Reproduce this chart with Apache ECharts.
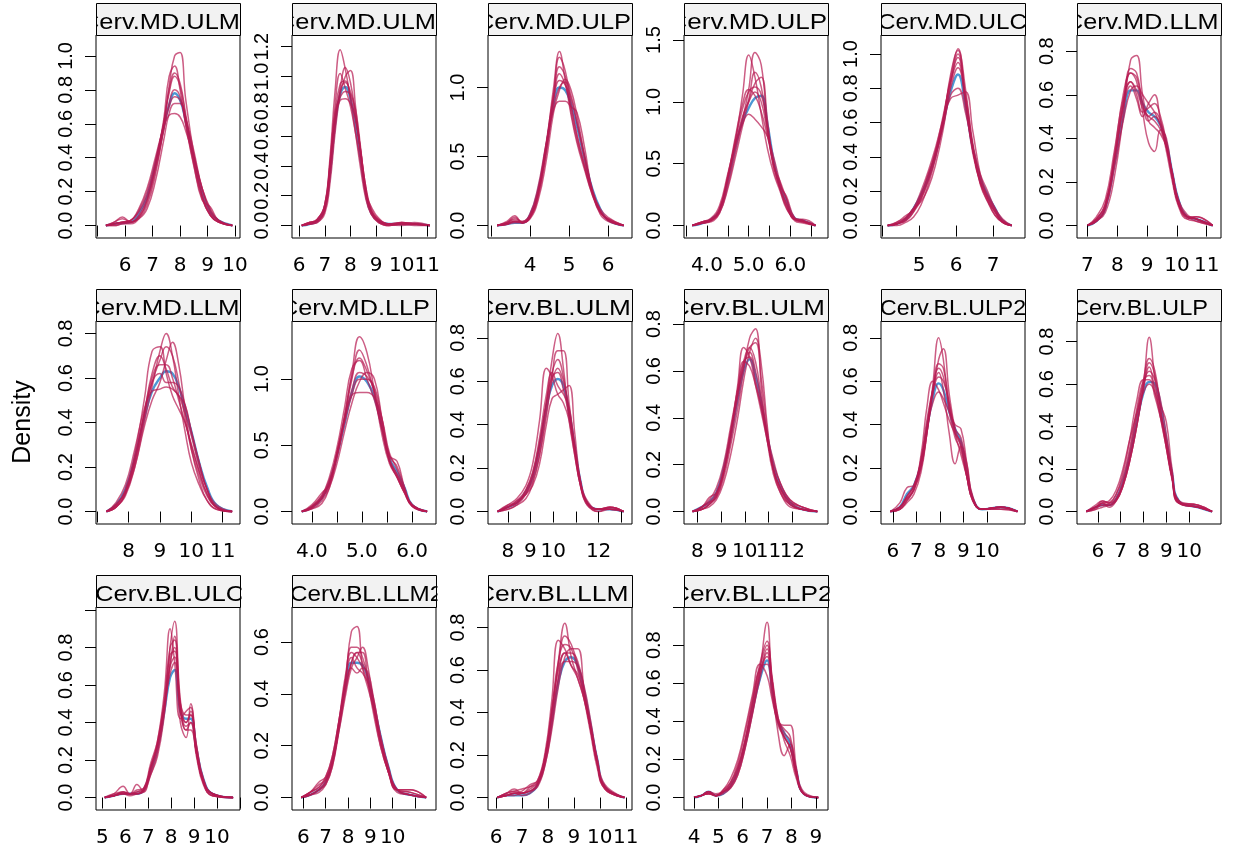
<!DOCTYPE html>
<html><head><meta charset="utf-8">
<script src="https://cdn.jsdelivr.net/npm/echarts@6/dist/echarts.min.js"></script>
<style>html,body{margin:0;padding:0;background:#fff}#c{width:1233px;height:857px}</style>
</head><body><div id="c"></div>
<script>
// ---------------- data ----------------
const stripLabels = ['Cerv.MD.ULM','Cerv.MD.ULM','Cerv.MD.ULP','Cerv.MD.ULP','Cerv.MD.ULC','Cerv.MD.LLM',
  'Cerv.MD.LLM','Cerv.MD.LLP','Cerv.BL.ULM','Cerv.BL.ULM','Cerv.BL.ULP2','Cerv.BL.ULP',
  'Cerv.BL.ULC','Cerv.BL.LLM2','Cerv.BL.LLM','Cerv.BL.LLP2'];
const yTitle = 'Density';

const x1 = [5.3,5.6,5.9,6.2,6.5,6.8,7.1,7.4,7.6,7.8,8.0,8.2,8.5,8.8,9.1,9.4,9.9];
const obs1 = [0,0.01,0.015,0.02,0.07,0.17,0.36,0.58,0.71,0.78,0.74,0.62,0.40,0.20,0.08,0.03,0];
const imp1 = [
 [0,0,0.01,0.01,0.04,0.12,0.30,0.58,0.82,1.0,1.02,0.75,0.42,0.18,0.06,0.02,0],
 [0,0.02,0.05,0.02,0.05,0.15,0.35,0.62,0.88,0.94,0.80,0.60,0.35,0.16,0.06,0.02,0],
 [0,0.01,0.02,0.03,0.09,0.20,0.38,0.60,0.78,0.88,0.82,0.64,0.38,0.17,0.06,0.02,0],
 [0,0.01,0.02,0.03,0.10,0.22,0.40,0.58,0.65,0.66,0.64,0.56,0.40,0.22,0.10,0.03,0],
 [0,0.01,0.02,0.02,0.05,0.14,0.32,0.56,0.72,0.80,0.76,0.60,0.36,0.15,0.11,0.03,0],
 [0,0,0.01,0.02,0.04,0.10,0.26,0.50,0.66,0.72,0.72,0.62,0.42,0.22,0.08,0.03,0],
 [0,0.01,0.02,0.03,0.08,0.18,0.36,0.60,0.80,0.90,0.84,0.66,0.38,0.18,0.07,0.02,0],
 [0,0.02,0.04,0.02,0.06,0.16,0.34,0.56,0.70,0.76,0.74,0.64,0.44,0.22,0.09,0.03,0]];

const x2 = [6.1,6.4,6.7,7.0,7.2,7.4,7.6,7.8,8.0,8.2,8.4,8.6,8.8,9.1,9.5,10.0,10.5,11.1];
const obs2 = [0,0.01,0.03,0.12,0.35,0.68,0.88,0.93,0.85,0.68,0.45,0.22,0.09,0.03,0.01,0.01,0.01,0];
const imp2 = [
 [0,0.02,0.04,0.14,0.45,0.90,1.18,1.05,0.85,0.62,0.38,0.18,0.08,0.02,0,0.01,0.01,0],
 [0,0.01,0.02,0.08,0.28,0.62,0.88,1.00,1.04,0.80,0.48,0.22,0.10,0.03,0,0.01,0,0],
 [0,0.02,0.03,0.10,0.38,0.74,0.95,0.97,0.86,0.70,0.46,0.22,0.10,0.03,0.01,0.02,0.01,0],
 [0,0.01,0.04,0.14,0.40,0.70,0.84,0.85,0.82,0.72,0.50,0.26,0.12,0.04,0.01,0,0.01,0],
 [0,0.01,0.02,0.10,0.32,0.66,0.90,0.96,0.90,0.78,0.52,0.22,0.13,0.05,0.01,0.01,0.02,0],
 [0,0.02,0.03,0.12,0.40,0.80,1.02,0.92,0.80,0.62,0.42,0.20,0.08,0.02,0,0.02,0.01,0],
 [0,0.01,0.03,0.11,0.36,0.70,0.92,1.06,0.96,0.74,0.50,0.24,0.10,0.03,0.01,0.01,0.01,0],
 [0,0.02,0.04,0.14,0.42,0.76,0.86,0.90,0.88,0.74,0.50,0.26,0.10,0.04,0.01,0.02,0.01,0]];

const x3 = [3.15,3.4,3.6,3.8,4.0,4.2,4.4,4.6,4.75,4.9,5.05,5.2,5.4,5.6,5.8,6.0,6.4];
const obs3 = [0,0.01,0.02,0.02,0.08,0.25,0.55,0.88,1.0,0.98,0.88,0.72,0.48,0.26,0.12,0.04,0];
const imp3 = [
 [0,0.03,0.07,0.02,0.06,0.22,0.55,1.0,1.26,1.05,0.80,0.60,0.40,0.22,0.10,0.04,0],
 [0,0.02,0.05,0.03,0.08,0.25,0.55,0.92,1.10,1.02,0.85,0.65,0.42,0.22,0.09,0.05,0],
 [0,0.01,0.03,0.02,0.05,0.18,0.45,0.82,0.98,1.06,0.98,0.80,0.50,0.25,0.10,0.04,0],
 [0,0.01,0.03,0.03,0.09,0.28,0.58,0.84,0.90,0.90,0.86,0.82,0.56,0.24,0.10,0.05,0],
 [0,0.02,0.06,0.02,0.07,0.24,0.58,0.95,1.15,1.08,0.82,0.62,0.42,0.24,0.12,0.06,0],
 [0,0.01,0.02,0.02,0.06,0.20,0.50,0.90,1.05,1.02,0.92,0.74,0.48,0.24,0.08,0.03,0],
 [0,0.02,0.04,0.02,0.07,0.24,0.56,0.94,1.22,1.12,0.88,0.66,0.44,0.23,0.10,0.04,0],
 [0,0.01,0.03,0.02,0.06,0.22,0.52,0.86,1.0,1.04,0.94,0.76,0.50,0.26,0.11,0.04,0]];

const x4 = [3.65,3.9,4.1,4.3,4.5,4.7,4.85,5.0,5.15,5.3,5.45,5.6,5.75,5.9,6.1,6.3,6.6];
const obs4 = [0,0.02,0.05,0.12,0.36,0.66,0.84,0.95,1.03,1.05,0.82,0.52,0.32,0.2,0.06,0.04,0];
const imp4 = [
 [0,0.02,0.03,0.1,0.32,0.62,0.85,1.1,1.40,1.30,0.80,0.45,0.30,0.16,0.04,0.02,0],
 [0,0.03,0.04,0.12,0.38,0.72,1.05,1.38,1.20,0.90,0.62,0.42,0.28,0.14,0.05,0.03,0],
 [0,0.03,0.06,0.16,0.42,0.68,0.82,0.90,0.86,0.80,0.72,0.55,0.35,0.18,0.05,0.04,0],
 [0,0.02,0.04,0.12,0.40,0.75,0.98,1.10,1.05,0.92,0.72,0.50,0.32,0.24,0.06,0.03,0],
 [0,0.02,0.04,0.1,0.30,0.58,0.80,1.0,1.15,1.20,0.85,0.48,0.36,0.22,0.05,0.05,0],
 [0,0.03,0.05,0.13,0.38,0.68,0.88,1.0,1.08,1.0,0.75,0.50,0.30,0.15,0.05,0.03,0],
 [0,0.02,0.05,0.14,0.40,0.72,0.94,1.08,1.12,1.06,0.80,0.50,0.30,0.18,0.06,0.04,0],
 [0,0.03,0.05,0.12,0.36,0.66,0.86,1.02,1.24,1.12,0.78,0.48,0.34,0.22,0.06,0.04,0]];

const x5 = [4.15,4.4,4.65,4.85,5.05,5.25,5.45,5.65,5.85,6.05,6.25,6.45,6.65,6.85,7.05,7.25,7.5];
const obs5 = [0,0.01,0.04,0.1,0.18,0.28,0.42,0.60,0.78,0.88,0.70,0.45,0.28,0.18,0.10,0.03,0];
const imp5 = [
 [0,0.01,0.03,0.08,0.15,0.26,0.40,0.60,0.88,1.03,0.72,0.42,0.25,0.16,0.08,0.02,0],
 [0,0.0,0.02,0.05,0.12,0.24,0.40,0.62,0.86,1.02,0.80,0.46,0.24,0.14,0.08,0.02,0],
 [0,0.01,0.04,0.1,0.20,0.32,0.46,0.62,0.74,0.76,0.78,0.55,0.30,0.16,0.08,0.02,0],
 [0,0.02,0.06,0.09,0.16,0.28,0.44,0.64,0.84,0.95,0.70,0.44,0.26,0.15,0.06,0.02,0],
 [0,0.01,0.03,0.08,0.18,0.30,0.42,0.58,0.76,0.80,0.66,0.46,0.30,0.20,0.10,0.04,0],
 [0,0.01,0.05,0.1,0.14,0.22,0.36,0.56,0.82,1.0,0.76,0.45,0.25,0.14,0.06,0.02,0],
 [0,0.01,0.04,0.09,0.16,0.27,0.42,0.62,0.84,0.98,0.74,0.44,0.26,0.17,0.09,0.03,0],
 [0,0.02,0.05,0.10,0.18,0.30,0.44,0.60,0.80,0.92,0.76,0.48,0.28,0.18,0.10,0.03,0]];

const x6 = [7.0,7.3,7.6,7.9,8.2,8.45,8.65,8.85,9.05,9.25,9.45,9.65,9.85,10.05,10.35,10.65,11.2];
const obs6 = [0,0.02,0.08,0.28,0.50,0.62,0.62,0.56,0.52,0.50,0.46,0.38,0.24,0.12,0.04,0.03,0];
const imp6 = [
 [0,0.02,0.06,0.22,0.50,0.76,0.78,0.60,0.48,0.45,0.42,0.36,0.24,0.12,0.04,0.03,0],
 [0,0.03,0.10,0.30,0.54,0.64,0.58,0.50,0.56,0.60,0.48,0.36,0.22,0.10,0.04,0.02,0],
 [0,0.02,0.08,0.32,0.60,0.70,0.66,0.52,0.38,0.34,0.44,0.40,0.22,0.10,0.03,0.02,0],
 [0,0.03,0.10,0.30,0.56,0.70,0.68,0.56,0.48,0.50,0.46,0.34,0.20,0.09,0.03,0.04,0],
 [0,0.02,0.08,0.26,0.48,0.62,0.64,0.60,0.56,0.52,0.46,0.36,0.24,0.12,0.05,0.03,0],
 [0,0.04,0.12,0.34,0.58,0.66,0.62,0.54,0.50,0.48,0.44,0.36,0.22,0.10,0.04,0.04,0],
 [0,0.02,0.08,0.28,0.54,0.72,0.70,0.56,0.50,0.52,0.48,0.38,0.24,0.11,0.04,0.03,0],
 [0,0.03,0.09,0.30,0.56,0.66,0.60,0.52,0.54,0.56,0.50,0.38,0.22,0.10,0.04,0.03,0]];

const x7 = [7.3,7.6,7.9,8.2,8.5,8.75,9.0,9.2,9.4,9.6,9.8,10.0,10.25,10.5,10.8,11.3];
const obs7 = [0,0.03,0.10,0.24,0.42,0.54,0.60,0.63,0.62,0.56,0.46,0.36,0.22,0.11,0.03,0];
const imp7 = [
 [0,0.02,0.07,0.20,0.40,0.56,0.72,0.80,0.70,0.52,0.36,0.22,0.12,0.05,0.01,0],
 [0,0.03,0.10,0.26,0.50,0.72,0.74,0.62,0.52,0.46,0.40,0.30,0.18,0.08,0.02,0],
 [0,0.02,0.08,0.20,0.38,0.50,0.58,0.68,0.76,0.66,0.46,0.28,0.14,0.05,0.01,0],
 [0,0.04,0.12,0.28,0.46,0.54,0.55,0.56,0.55,0.52,0.44,0.34,0.20,0.10,0.03,0],
 [0,0.02,0.08,0.22,0.44,0.62,0.70,0.64,0.56,0.52,0.48,0.36,0.22,0.10,0.02,0],
 [0,0.03,0.09,0.24,0.44,0.60,0.66,0.66,0.60,0.50,0.40,0.30,0.18,0.08,0.02,0],
 [0,0.03,0.09,0.24,0.44,0.58,0.68,0.74,0.70,0.58,0.42,0.28,0.16,0.07,0.02,0],
 [0,0.02,0.08,0.22,0.42,0.58,0.62,0.58,0.58,0.56,0.48,0.36,0.22,0.10,0.02,0]];

const x8 = [3.8,4.0,4.2,4.35,4.5,4.65,4.8,4.95,5.1,5.25,5.4,5.55,5.7,5.85,6.0,6.3];
const obs8 = [0,0.03,0.10,0.22,0.42,0.66,0.90,1.02,0.98,0.86,0.64,0.40,0.30,0.18,0.05,0];
const imp8 = [
 [0,0.02,0.06,0.18,0.40,0.70,1.05,1.32,1.20,0.90,0.58,0.36,0.26,0.14,0.04,0],
 [0,0.05,0.14,0.20,0.44,0.68,0.88,0.90,0.90,0.86,0.70,0.44,0.32,0.16,0.05,0],
 [0,0.04,0.12,0.26,0.48,0.78,1.08,1.14,1.0,0.84,0.62,0.38,0.26,0.14,0.04,0],
 [0,0.02,0.08,0.18,0.36,0.60,0.82,0.98,1.05,1.0,0.70,0.42,0.38,0.18,0.04,0],
 [0,0.03,0.10,0.22,0.42,0.70,1.0,1.22,1.10,0.88,0.62,0.38,0.26,0.14,0.05,0],
 [0,0.03,0.10,0.20,0.44,0.70,0.92,1.05,1.02,0.92,0.66,0.40,0.28,0.16,0.05,0],
 [0,0.03,0.10,0.22,0.44,0.72,1.02,1.16,1.06,0.90,0.64,0.38,0.28,0.16,0.05,0],
 [0,0.04,0.12,0.24,0.42,0.66,0.88,1.0,1.0,0.94,0.70,0.42,0.34,0.18,0.05,0]];

const x9 = [7.55,8.0,8.4,8.8,9.1,9.4,9.7,9.95,10.2,10.45,10.7,10.95,11.2,11.5,12.0,12.5,13.1];
const obs9 = [0,0.02,0.04,0.09,0.16,0.30,0.48,0.58,0.61,0.58,0.46,0.30,0.14,0.04,0.01,0.01,0];
const imp9 = [
 [0,0.01,0.03,0.08,0.16,0.30,0.50,0.70,0.82,0.66,0.42,0.26,0.12,0.03,0,0.02,0],
 [0,0.02,0.04,0.08,0.14,0.26,0.44,0.62,0.74,0.74,0.50,0.30,0.13,0.04,0,0.01,0],
 [0,0.03,0.06,0.12,0.22,0.42,0.66,0.62,0.54,0.50,0.42,0.26,0.12,0.03,0.01,0.01,0],
 [0,0.02,0.05,0.08,0.12,0.22,0.40,0.52,0.54,0.56,0.58,0.36,0.14,0.04,0.01,0.02,0],
 [0,0.03,0.04,0.10,0.18,0.32,0.50,0.62,0.64,0.56,0.44,0.30,0.14,0.05,0.01,0.01,0],
 [0,0.01,0.03,0.06,0.13,0.26,0.46,0.60,0.66,0.60,0.46,0.28,0.12,0.04,0.01,0.02,0],
 [0,0.02,0.04,0.09,0.16,0.30,0.50,0.64,0.70,0.62,0.46,0.28,0.13,0.04,0.01,0.02,0],
 [0,0.02,0.05,0.10,0.18,0.34,0.54,0.64,0.58,0.54,0.48,0.30,0.14,0.04,0.01,0.01,0]];

const x10 = [7.8,8.2,8.5,8.8,9.1,9.4,9.7,9.95,10.2,10.45,10.7,10.95,11.2,11.5,11.9,12.4,13.05];
const obs10 = [0,0.02,0.04,0.08,0.18,0.32,0.48,0.60,0.65,0.58,0.46,0.32,0.20,0.11,0.04,0.01,0];
const imp10 = [
 [0,0.01,0.03,0.06,0.14,0.28,0.44,0.60,0.74,0.78,0.52,0.30,0.16,0.08,0.02,0.01,0],
 [0,0.01,0.02,0.05,0.12,0.24,0.40,0.56,0.68,0.74,0.62,0.36,0.18,0.08,0.03,0.01,0],
 [0,0.02,0.06,0.08,0.16,0.32,0.54,0.70,0.66,0.54,0.42,0.30,0.18,0.10,0.04,0.02,0],
 [0,0.02,0.04,0.06,0.16,0.34,0.52,0.64,0.66,0.56,0.44,0.32,0.22,0.12,0.05,0.02,0],
 [0,0.01,0.03,0.07,0.18,0.34,0.50,0.62,0.68,0.60,0.46,0.32,0.18,0.10,0.03,0.01,0],
 [0,0.02,0.05,0.10,0.20,0.36,0.52,0.64,0.62,0.54,0.44,0.30,0.20,0.12,0.05,0.02,0],
 [0,0.02,0.04,0.08,0.17,0.32,0.50,0.64,0.70,0.64,0.48,0.32,0.18,0.10,0.04,0.01,0],
 [0,0.01,0.03,0.07,0.16,0.30,0.48,0.62,0.70,0.72,0.56,0.34,0.18,0.09,0.03,0.01,0]];

const x11 = [5.9,6.3,6.6,6.9,7.2,7.45,7.7,7.95,8.15,8.4,8.65,8.9,9.15,9.4,9.8,10.6,11.3];
const obs11 = [0,0.02,0.08,0.12,0.22,0.38,0.52,0.59,0.56,0.46,0.38,0.32,0.18,0.06,0.01,0.02,0];
const imp11 = [
 [0,0.01,0.04,0.08,0.18,0.36,0.58,0.80,0.70,0.46,0.34,0.28,0.16,0.05,0.01,0.02,0],
 [0,0.01,0.05,0.10,0.20,0.36,0.54,0.70,0.75,0.54,0.38,0.30,0.16,0.05,0.01,0.02,0],
 [0,0.04,0.11,0.12,0.26,0.48,0.60,0.56,0.50,0.42,0.36,0.32,0.18,0.06,0.01,0.01,0],
 [0,0.02,0.06,0.10,0.24,0.42,0.56,0.64,0.56,0.36,0.22,0.30,0.22,0.06,0.01,0.02,0],
 [0,0.02,0.07,0.12,0.24,0.38,0.50,0.55,0.52,0.46,0.40,0.38,0.22,0.07,0.01,0.01,0],
 [0,0.01,0.05,0.10,0.20,0.36,0.56,0.66,0.62,0.48,0.36,0.30,0.16,0.05,0.01,0.02,0],
 [0,0.02,0.06,0.11,0.22,0.40,0.56,0.68,0.66,0.50,0.38,0.34,0.20,0.06,0.01,0.02,0],
 [0,0.02,0.07,0.12,0.22,0.38,0.54,0.62,0.60,0.50,0.36,0.26,0.16,0.06,0.01,0.02,0]];

const x12 = [5.5,5.9,6.2,6.5,6.8,7.1,7.4,7.7,8.0,8.25,8.5,8.75,9.0,9.25,9.55,10.4,11.0];
const obs12 = [0,0.02,0.03,0.03,0.06,0.14,0.26,0.42,0.56,0.61,0.60,0.50,0.34,0.18,0.05,0.02,0];
const imp12 = [
 [0,0.01,0.04,0.02,0.05,0.12,0.24,0.40,0.60,0.82,0.62,0.44,0.30,0.16,0.04,0.02,0],
 [0,0.02,0.05,0.04,0.06,0.13,0.26,0.44,0.62,0.72,0.66,0.48,0.30,0.15,0.04,0.02,0],
 [0,0.02,0.04,0.05,0.10,0.20,0.34,0.46,0.56,0.60,0.56,0.46,0.32,0.16,0.04,0.03,0],
 [0,0.02,0.03,0.03,0.05,0.12,0.24,0.40,0.58,0.68,0.58,0.50,0.42,0.20,0.04,0.02,0],
 [0,0.03,0.05,0.04,0.08,0.16,0.30,0.48,0.62,0.64,0.56,0.44,0.30,0.16,0.05,0.02,0],
 [0,0.01,0.02,0.03,0.05,0.12,0.24,0.40,0.58,0.70,0.64,0.48,0.32,0.16,0.04,0.03,0],
 [0,0.02,0.04,0.03,0.06,0.14,0.28,0.46,0.60,0.66,0.62,0.52,0.36,0.18,0.05,0.03,0],
 [0,0.02,0.03,0.04,0.08,0.18,0.34,0.52,0.62,0.62,0.54,0.44,0.34,0.18,0.05,0.02,0]];

const x13 = [5.1,5.5,5.9,6.2,6.5,6.8,7.1,7.4,7.7,7.95,8.15,8.4,8.65,8.85,9.1,9.4,9.8,10.7];
const obs13 = [0,0.01,0.02,0.02,0.02,0.04,0.14,0.26,0.46,0.64,0.68,0.46,0.42,0.42,0.26,0.10,0.02,0];
const imp13 = [
 [0,0.01,0.02,0.01,0.02,0.03,0.12,0.24,0.46,0.80,0.94,0.52,0.40,0.44,0.24,0.08,0.01,0],
 [0,0.02,0.06,0.02,0.03,0.04,0.16,0.30,0.56,0.90,0.72,0.42,0.46,0.48,0.24,0.08,0.01,0],
 [0,0.01,0.02,0.02,0.07,0.03,0.16,0.28,0.50,0.70,0.75,0.40,0.32,0.50,0.28,0.10,0.02,0],
 [0,0.01,0.02,0.02,0.02,0.04,0.18,0.30,0.52,0.80,0.84,0.46,0.36,0.40,0.24,0.08,0.02,0],
 [0,0.01,0.03,0.02,0.04,0.05,0.14,0.28,0.48,0.66,0.72,0.50,0.44,0.44,0.28,0.10,0.02,0],
 [0,0.02,0.03,0.02,0.02,0.04,0.12,0.22,0.44,0.72,0.80,0.48,0.38,0.40,0.22,0.07,0.01,0],
 [0,0.01,0.02,0.02,0.03,0.05,0.16,0.28,0.50,0.76,0.78,0.46,0.40,0.46,0.26,0.09,0.02,0],
 [0,0.01,0.03,0.02,0.02,0.04,0.14,0.26,0.48,0.70,0.86,0.50,0.36,0.36,0.24,0.09,0.02,0]];

const x14 = [5.9,6.3,6.7,7.0,7.3,7.6,7.9,8.15,8.4,8.65,8.9,9.15,9.45,9.8,10.2,10.8,11.5];
const obs14 = [0,0.01,0.03,0.06,0.14,0.28,0.44,0.52,0.52,0.51,0.46,0.36,0.24,0.12,0.03,0.01,0];
const imp14 = [
 [0,0.01,0.02,0.05,0.12,0.28,0.46,0.64,0.66,0.50,0.42,0.34,0.22,0.10,0.02,0.01,0],
 [0,0.02,0.04,0.07,0.14,0.26,0.40,0.50,0.54,0.58,0.50,0.36,0.22,0.10,0.03,0.02,0],
 [0,0.02,0.06,0.08,0.16,0.30,0.46,0.54,0.50,0.48,0.44,0.36,0.22,0.11,0.03,0.03,0],
 [0,0.01,0.03,0.05,0.12,0.26,0.42,0.52,0.56,0.56,0.44,0.32,0.20,0.10,0.03,0.01,0],
 [0,0.02,0.04,0.08,0.16,0.30,0.44,0.50,0.48,0.50,0.48,0.38,0.24,0.12,0.03,0.01,0],
 [0,0.01,0.03,0.06,0.14,0.30,0.48,0.56,0.54,0.50,0.44,0.34,0.20,0.10,0.03,0.03,0],
 [0,0.01,0.03,0.06,0.13,0.28,0.46,0.58,0.58,0.54,0.46,0.34,0.22,0.11,0.03,0.01,0],
 [0,0.02,0.05,0.07,0.14,0.28,0.42,0.52,0.56,0.52,0.46,0.38,0.24,0.12,0.03,0.02,0]];

const x15 = [6.05,6.4,6.7,7.0,7.3,7.6,7.9,8.15,8.4,8.65,8.9,9.15,9.4,9.65,9.9,10.2,10.95];
const obs15 = [0,0.01,0.01,0.01,0.02,0.06,0.18,0.36,0.54,0.64,0.66,0.62,0.50,0.34,0.18,0.05,0];
const imp15 = [
 [0,0.01,0.02,0.01,0.02,0.06,0.18,0.40,0.64,0.82,0.66,0.56,0.46,0.32,0.16,0.04,0],
 [0,0.02,0.04,0.02,0.05,0.08,0.22,0.46,0.74,0.70,0.62,0.56,0.46,0.32,0.16,0.05,0],
 [0,0.01,0.01,0.02,0.03,0.05,0.16,0.32,0.52,0.66,0.70,0.70,0.50,0.32,0.16,0.04,0],
 [0,0.01,0.02,0.03,0.06,0.08,0.20,0.40,0.60,0.68,0.62,0.58,0.48,0.34,0.18,0.05,0],
 [0,0.01,0.02,0.02,0.03,0.06,0.20,0.42,0.64,0.72,0.70,0.60,0.46,0.30,0.14,0.04,0],
 [0,0.02,0.03,0.02,0.03,0.06,0.16,0.34,0.56,0.68,0.68,0.64,0.50,0.34,0.18,0.06,0],
 [0,0.01,0.02,0.02,0.04,0.07,0.20,0.40,0.62,0.76,0.72,0.62,0.48,0.32,0.16,0.05,0],
 [0,0.02,0.03,0.04,0.05,0.07,0.18,0.36,0.56,0.64,0.64,0.62,0.52,0.36,0.18,0.05,0]];

const x16 = [4.0,4.3,4.6,4.9,5.2,5.5,5.8,6.1,6.4,6.7,7.0,7.2,7.45,7.7,7.95,8.2,8.5,9.1];
const obs16 = [0,0.01,0.03,0.01,0.02,0.06,0.14,0.28,0.46,0.62,0.72,0.58,0.40,0.34,0.28,0.14,0.02,0];
const imp16 = [
 [0,0.01,0.02,0.01,0.03,0.05,0.12,0.26,0.44,0.66,0.92,0.62,0.40,0.32,0.26,0.12,0.02,0],
 [0,0.01,0.03,0.01,0.04,0.08,0.16,0.30,0.50,0.70,0.82,0.64,0.42,0.30,0.22,0.10,0.02,0],
 [0,0.01,0.02,0.01,0.04,0.10,0.20,0.36,0.54,0.70,0.64,0.52,0.40,0.38,0.38,0.16,0.02,0],
 [0,0.01,0.03,0.02,0.03,0.06,0.14,0.28,0.46,0.64,0.78,0.60,0.34,0.22,0.28,0.14,0.02,0],
 [0,0.01,0.02,0.01,0.02,0.05,0.12,0.26,0.44,0.62,0.76,0.62,0.42,0.34,0.30,0.14,0.03,0],
 [0,0.01,0.03,0.01,0.03,0.07,0.16,0.30,0.48,0.66,0.74,0.56,0.38,0.32,0.26,0.12,0.02,0],
 [0,0.01,0.03,0.01,0.03,0.06,0.14,0.30,0.50,0.68,0.80,0.62,0.40,0.32,0.26,0.12,0.02,0],
 [0,0.01,0.02,0.01,0.03,0.08,0.18,0.34,0.52,0.68,0.70,0.54,0.40,0.36,0.32,0.14,0.02,0]];

const xTickVals = [[5,6,7,8,9,10],[6,7,8,9,10,11],[3,4,5,6],[3.5,4,4.5,5,5.5,6,6.5],[4,5,6,7],[7,8,9,10,11],
 [7,8,9,10,11],[4,4.5,5,5.5,6],[8,9,10,11,12,13],[8,9,10,11,12,13],[6,7,8,9,10,11],[6,7,8,9,10,11],
 [5,6,7,8,9,10,11],[6,7,8,9,10,11],[6,7,8,9,10,11],[4,5,6,7,8,9]];
const xTickLabels = [['6','7','8','9','10'],['6','7','8','9','10','11'],['4','5','6'],['4.0','5.0','6.0'],['5','6','7'],
 ['7','8','9','10','11'],['8','9','10','11'],['4.0','5.0','6.0'],['8','9','10','12'],['8','9','10','11','12','13'],
 ['6','7','8','9','10','11'],['6','7','8','9','10','11'],['5','6','7','8','9','10'],['6','7','8','9','10'],
 ['6','7','8','9','10','11'],['4','5','6','7','8','9']];
const yTickVals = [[0,0.2,0.4,0.6,0.8,1.0],[0,0.2,0.4,0.6,0.8,1.0,1.2],[0,0.5,1.0],[0,0.5,1.0,1.5],[0,0.2,0.4,0.6,0.8,1.0],
 [0,0.2,0.4,0.6,0.8],[0,0.2,0.4,0.6,0.8],[0,0.5,1.0],[0,0.2,0.4,0.6,0.8],[0,0.2,0.4,0.6,0.8],[0,0.2,0.4,0.6,0.8],
 [0,0.2,0.4,0.6,0.8],[0,0.2,0.4,0.6,0.8,1.0],[0,0.2,0.4,0.6],[0,0.2,0.4,0.6,0.8],[0,0.2,0.4,0.6,0.8,1.0]];
const yTickLabels = [['0.0','0.2','0.4','0.6','0.8','1.0'],['0.0','0.2','0.4','0.6','0.8','1.0','1.2'],['0.0','0.5','1.0'],
 ['0.0','0.5','1.0','1.5'],['0.0','0.2','0.4','0.6','0.8','1.0'],['0.0','0.2','0.4','0.6','0.8'],['0.0','0.2','0.4','0.6','0.8'],
 ['0.0','0.5','1.0'],['0.0','0.2','0.4','0.6','0.8'],['0.0','0.2','0.4','0.6','0.8'],['0.0','0.2','0.4','0.6','0.8'],
 ['0.0','0.2','0.4','0.6','0.8'],['0.0','0.2','0.4','0.6','0.8'],['0.0','0.2','0.4','0.6'],['0.0','0.2','0.4','0.6','0.8'],
 ['0.0','0.2','0.4','0.6','0.8']];

// ---------------- scales / layout ----------------
const xLim = [[4.94,10.18],[5.72,11.34],[2.915,6.615],[3.45,6.9],[3.97,7.86],[6.65,11.48],[6.965,11.55],[3.605,6.477],
 [7.13,13.47],[7.44,13.5],[5.5,11.62],[5.09,11.39],[4.72,11.0],[5.49,11.94],[5.69,11.24],[3.59,9.5]];
const densMax = [1.05,1.195,1.29,1.44,1.038,0.817,0.80,1.345,0.82,0.76,0.82,0.838,0.95,0.687,0.838,0.935];
const stripSpan = [[81,240],[277,436],[476,631],[668.5,827],[878,1027],[1065,1218.5],[82,239.5],[280,430],
 [475.5,630.7],[671,825],[880,1026],[1072,1208],[95,244.4],[290,443.3],[476,628.5],[671,832.5]];

const panelX = [x1,x2,x3,x4,x5,x6,x7,x8,x9,x10,x11,x12,x13,x14,x15,x16];
const panelObs = [obs1,obs2,obs3,obs4,obs5,obs6,obs7,obs8,obs9,obs10,obs11,obs12,obs13,obs14,obs15,obs16];
const panelImp = [imp1,imp2,imp3,imp4,imp5,imp6,imp7,imp8,imp9,imp10,imp11,imp12,imp13,imp14,imp15,imp16];

const colL = [96,292,488,684,881,1077];
const rowT = [35,321,607];
const PW = 144, PH = 203, SH = 32;
const BLUE = 'rgba(0,108,194,0.7)', RED = 'rgba(182,26,81,0.7)';
const STRIP_FONT = '22px "Liberation Sans"';

const mctx = document.createElement('canvas').getContext('2d');
mctx.font = STRIP_FONT;

const grids=[], xAxes=[], yAxes=[], series=[], gfx=[];
function fmt(list){ return v => { const s = list.find(t => Math.abs(Number(t)-v) < 1e-9); return s === undefined ? '' : s; }; }

for (let i=0;i<16;i++){
  const c=i%6, r=Math.floor(i/6), L=colL[c], T=rowT[r];
  grids.push({left:L, top:T, width:PW, height:PH, show:true, borderColor:'#000', borderWidth:1,
    backgroundColor:'rgba(0,0,0,0)', containLabel:false, outerBoundsMode:'none'});
  const xl = xTickLabels[i], yl = yTickLabels[i];
  xAxes.push({type:'value', gridIndex:i, min:xLim[i][0], max:xLim[i][1], z:10, position:'bottom',
    axisLine:{show:false}, splitLine:{show:false},
    axisTick:{show:true, inside:false, length:11, customValues:xTickVals[i], lineStyle:{color:'#000', width:1}},
    axisLabel:{show:true, customValues:xl.map(Number), formatter:fmt(xl), margin:18, hideOverlap:false,
      color:'#000', fontFamily:'DejaVu Sans', fontSize:20}});
  const dm = densMax[i];
  yAxes.push({type:'value', gridIndex:i, min:-0.07*dm, max:1.07*dm, z:10, position:'left',
    axisLine:{show:false}, splitLine:{show:false},
    axisTick:{show:true, inside:false, length:11, customValues:yTickVals[i], lineStyle:{color:'#000', width:1}},
    axisLabel:{show:true, customValues:yl.map(Number), formatter:fmt(yl), rotate:90, margin:20, hideOverlap:false,
      color:'#000', fontFamily:'Liberation Sans', fontSize:20}});
  const xs = panelX[i];
  series.push({type:'line', xAxisIndex:i, yAxisIndex:i, data:xs.map((x,k)=>[x,panelObs[i][k]]),
    smooth:0.45, showSymbol:false, symbol:'none', silent:true, clip:true, z:2,
    lineStyle:{color:BLUE, width:2.4}});
  panelImp[i].forEach(arr => series.push({type:'line', xAxisIndex:i, yAxisIndex:i, data:xs.map((x,k)=>[x,arr[k]]),
    smooth:0.45, showSymbol:false, symbol:'none', silent:true, clip:true, z:3,
    lineStyle:{color:RED, width:1.5}}));
  // strip
  gfx.push({type:'rect', z:1, silent:true, shape:{x:L+0.5, y:T-SH+0.5, width:PW, height:SH},
    style:{fill:'#f2f2f2', stroke:'#000', lineWidth:1}});
  const txt = stripLabels[i];
  const natural = mctx.measureText(txt).width;
  const span = stripSpan[i];
  gfx.push({type:'text', z:2, silent:true, x:span[0], y:T-12, scaleX:(span[1]-span[0])/natural, scaleY:1,
    style:{text:txt, font:STRIP_FONT, fill:'#000', textAlign:'left', align:'left', textVerticalAlign:'middle', verticalAlign:'middle'}});
}
// white covers clipping strip text outside the strip boxes
for (let r=0;r<3;r++){
  const T=rowT[r];
  const ncol = r<2 ? 6 : 4;
  let prev = 0;
  for (let c=0;c<ncol;c++){
    gfx.push({type:'rect', z:3, silent:true, shape:{x:prev, y:T-SH-2, width:colL[c]-prev, height:SH+1}, style:{fill:'#fff'}});
    prev = colL[c]+PW+1.5;
  }
  gfx.push({type:'rect', z:3, silent:true, shape:{x:prev, y:T-SH-2, width:1233-prev, height:SH+1}, style:{fill:'#fff'}});
}
gfx.push({type:'text', z:4, silent:true, x:23, y:422, rotation:Math.PI/2,
  style:{text:yTitle, font:'25px "Liberation Sans"', fill:'#000', textAlign:'center', align:'center', textVerticalAlign:'middle', verticalAlign:'middle'}});

const chart = echarts.init(document.getElementById('c'), null, {renderer:'canvas'});
chart.setOption({
  backgroundColor:'#fff', animation:false,
  grid:grids, xAxis:xAxes, yAxis:yAxes, series:series,
  graphic:{elements:gfx}
});
</script>
</body></html>
